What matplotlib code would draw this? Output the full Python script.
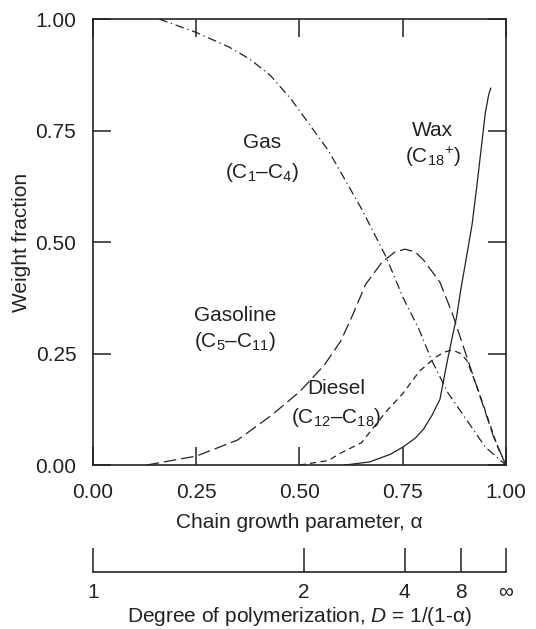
import numpy as np
import matplotlib
matplotlib.use("Agg")
import matplotlib.pyplot as plt

plt.rcParams['font.family'] = ['Liberation Sans', 'DejaVu Sans']
plt.rcParams['mathtext.fontset'] = 'custom'
plt.rcParams['mathtext.rm'] = 'Liberation Sans'
plt.rcParams['mathtext.it'] = 'Liberation Sans:italic'

# valeurs
gas_a = [0.16, 0.25, 0.33, 0.38, 0.43, 0.48, 0.57, 0.65, 0.71, 0.75, 0.79, 0.82, 0.86, 0.91, 0.95, 1.0]
gas_w = [1.0, 0.97, 0.937, 0.91, 0.873, 0.82, 0.705, 0.575, 0.466, 0.377, 0.303, 0.235, 0.161, 0.094, 0.04, 0.0]

gasoline_a = [0.13, 0.25, 0.35, 0.43, 0.50, 0.56, 0.60, 0.63, 0.66, 0.70, 0.73, 0.755, 0.78, 0.80, 0.84, 0.87, 0.91, 0.94, 0.97, 1.0]
gasoline_w = [0.0, 0.02, 0.056, 0.11, 0.164, 0.224, 0.278, 0.339, 0.405, 0.455, 0.477, 0.484, 0.478, 0.46, 0.41, 0.34, 0.229, 0.146, 0.063, 0.0]

diesel_a = [0.50, 0.57, 0.60, 0.65, 0.68, 0.71, 0.75, 0.79, 0.83, 0.85, 0.87, 0.89, 0.905, 0.93, 0.955, 0.98, 1.0]
diesel_w = [0.0, 0.01, 0.027, 0.05, 0.085, 0.12, 0.16, 0.21, 0.242, 0.253, 0.258, 0.25, 0.235, 0.175, 0.108, 0.04, 0.0]

wax_a = [0.61, 0.67, 0.72, 0.75, 0.78, 0.80, 0.82, 0.84, 0.857, 0.872, 0.88, 0.89, 0.905, 0.918, 0.93, 0.94, 0.95, 0.958, 0.963]
wax_w = [0.0, 0.007, 0.024, 0.04, 0.06, 0.08, 0.11, 0.147, 0.229, 0.296, 0.33, 0.39, 0.47, 0.54, 0.63, 0.71, 0.79, 0.83, 0.845]

ticks = [0.0, 0.25, 0.5, 0.75, 1.0]
tick_labels = ['0.00', '0.25', '0.50', '0.75', '1.00']

# echelle du degre de polymerisation D = 1/(1-alpha), positions lues
dp_pos = [0.0, 0.51, 0.755, 0.89, 1.0]
dp_labels = ['1', '2', '4', '8', '\u221e']

ink = '#222222'
fs = 15

fig = plt.figure(figsize=(5.36, 6.29), dpi=100)
ax = fig.add_axes([0.1735, 0.2607, 0.7705, 0.709])

lw = 0.9
ax.plot(gas_a, gas_w, color=ink, lw=lw, dashes=(7, 3, 1, 3))
ax.plot(gasoline_a, gasoline_w, color=ink, lw=lw, dashes=(10, 4))
ax.plot(diesel_a, diesel_w, color=ink, lw=lw, dashes=(5, 3.5))
ax.plot(wax_a, wax_w, color=ink, lw=lw)

ax.set_xlim(0, 1)
ax.set_ylim(0, 1)
ax.set_xticks(ticks)
ax.set_xticklabels(tick_labels)
ax.set_yticks(ticks)
ax.set_yticklabels(tick_labels)
ax.tick_params(direction='in', length=13, width=1.1, color=ink, labelsize=fs,
               labelcolor=ink, top=True, right=True)
ax.tick_params(axis='x', pad=13)
ax.tick_params(axis='y', pad=12)
for s in ax.spines.values():
    s.set_linewidth(1.2)
    s.set_color(ink)

ax.set_xlabel('Chain growth parameter, \u03b1', fontsize=fs, color=ink, labelpad=8)
ax.set_ylabel('Weight fraction', fontsize=fs, color=ink, labelpad=3)

ax.text(0.41, 0.724, 'Gas', ha='center', va='center', fontsize=fs, color=ink)
ax.text(0.41, 0.657, '(C$_1$\u2013C$_4$)', ha='center', va='center', fontsize=fs, color=ink)
ax.text(0.823, 0.751, 'Wax', ha='center', va='center', fontsize=fs, color=ink)
ax.text(0.823, 0.69, '(C$_{18}$$^{+}$)', ha='center', va='center', fontsize=fs, color=ink)
ax.text(0.345, 0.335, 'Gasoline', ha='center', va='center', fontsize=fs, color=ink)
ax.text(0.345, 0.278, '(C$_5$\u2013C$_{11}$)', ha='center', va='center', fontsize=fs, color=ink)
ax.text(0.588, 0.171, 'Diesel', ha='center', va='center', fontsize=fs, color=ink)
ax.text(0.588, 0.106, '(C$_{12}$\u2013C$_{18}$)', ha='center', va='center', fontsize=fs, color=ink)

# second axe en bas
ax2 = fig.add_axes([0.1735, 0.0906, 0.7705, 0.05])
ax2.patch.set_visible(False)
for k in ['top', 'left', 'right']:
    ax2.spines[k].set_visible(False)
ax2.spines['bottom'].set_linewidth(1.2)
ax2.spines['bottom'].set_color(ink)
ax2.set_xlim(0, 1)
ax2.set_yticks([])
ax2.set_xticks(dp_pos)
ax2.set_xticklabels(dp_labels)
ax2.tick_params(axis='x', direction='in', length=17, width=1.1, color=ink,
                labelsize=fs, labelcolor=ink, pad=8)
ax2.set_xlabel('Degree of polymerization, $\\it{D}$ = 1/(1-\u03b1)', fontsize=fs,
               color=ink, labelpad=2)

fig.savefig('out.png', dpi=100)
